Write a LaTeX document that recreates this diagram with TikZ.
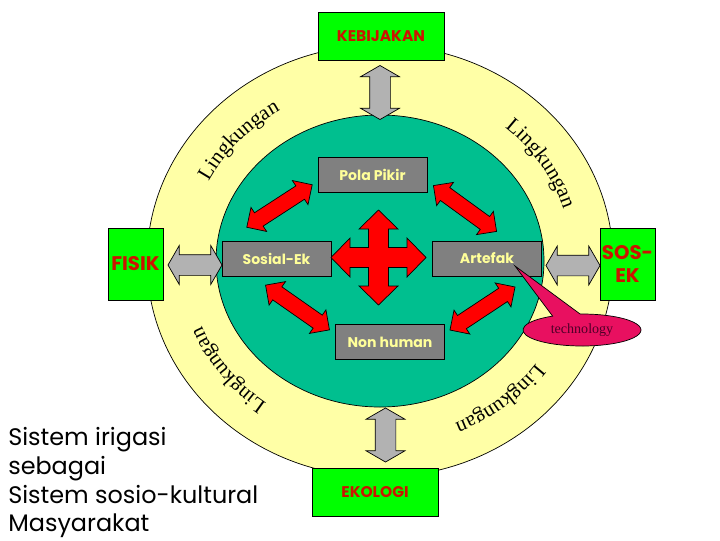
\documentclass[tikz,border=0pt]{standalone}
\usepackage{fontspec}
\usetikzlibrary{shapes.arrows,shapes.geometric,shapes.callouts,decorations.text}
\newfontfamily\comicfont{Poppins}
\newfontfamily\timesfont{Liberation Serif}
\definecolor{ringfill}   {RGB}{255,255,166}
\definecolor{corefill}   {RGB}{  0,191,143}
\definecolor{outerbox}   {RGB}{  0,255,  0}
\definecolor{outertext}  {RGB}{204, 20,  0}
\definecolor{innerbox}   {RGB}{128,128,128}
\definecolor{innertext}  {RGB}{255,255,153}
\definecolor{linkgray}   {RGB}{178,178,178}
\definecolor{linkred}    {RGB}{255,  0,  0}
\definecolor{calloutfill}{RGB}{232, 16, 96}
\definecolor{callouttext}{RGB}{ 80,  0, 40}

\begin{document}
\begin{tikzpicture}[
  x=0.025cm, y=-0.025cm,
  outerblock/.style={
      rectangle, draw=black, line width=0.6pt,
      fill=outerbox, text=outertext, align=center,
      inner sep=1pt,
      font=\comicfont\bfseries\fontsize{11}{13}\selectfont
  },
  sideblock/.style={
      outerblock, minimum width=1.375cm, minimum height=1.8cm,
      font=\comicfont\bfseries\fontsize{14}{16}\selectfont
  },
  innerblock/.style={
      rectangle, draw=black, line width=0.6pt,
      fill=innerbox, text=innertext,
      minimum width=2.725cm, minimum height=0.875cm,
      font=\comicfont\bfseries\fontsize{10}{12}\selectfont
  },
  graylink/.style={
      double arrow, draw=black, line width=0.5pt, fill=linkgray,
      inner xsep=0pt, inner ysep=0.25cm,
      double arrow head extend=0.225cm, double arrow tip angle=120,
      minimum height=1.35cm
  },
  redlink/.style={
      double arrow, draw=black, line width=0.5pt, fill=linkred,
      inner xsep=0pt, inner ysep=0.19cm,
      double arrow head extend=0.16cm, double arrow tip angle=90,
      minimum height=1.95cm
  },
  ringtext/.style={
      decorate, decoration={text along path, text align=center,
        text={|\timesfont\fontsize{15}{15}\selectfont|Lingkungan}}
  }
]
\useasboundingbox (0,0) rectangle (720,540);
\fill[white] (0,0) rectangle (720,540);

% rings
\coordinate (mid) at (380,261);
\draw[fill=ringfill, line width=0.5pt] (mid) ellipse [x radius=233, y radius=216];
\draw[fill=corefill, line width=0.5pt] (mid) ellipse [x radius=164, y radius=146];

% Lingkungan labels round the ring
\path[ringtext] (mid) ++(-165:192 and 176) arc[start angle=-165, end angle=-110, x radius=192, y radius=176];
\path[ringtext] (mid) ++(-60:192 and 176)  arc[start angle=-60,  end angle=-6,   x radius=192, y radius=176];
\path[ringtext] (mid) ++(-245:192 and 176) arc[start angle=-245, end angle=-190, x radius=192, y radius=176];
\path[ringtext] (mid) ++(-336:192 and 176) arc[start angle=-336, end angle=-282, x radius=192, y radius=176];

% outer blocks
\node[outerblock, minimum width=3.15cm, minimum height=1.2cm] (keb) at (381,36)  {KEBIJAKAN};
\node[outerblock, minimum width=3.15cm, minimum height=1.2cm] (eko) at (375,492) {EKOLOGI};
\node[sideblock] (fisik) at (135.5,264) {FISIK};
\node[sideblock] (sosek) at (627.5,264) {SOS-\\EK};

% gray links across the ring
\node[graylink, rotate=90] (linktop) at (380,92.5)   {};
\node[graylink, rotate=90] (linkbot) at (385.5,435)  {};
\node[graylink]            (linklft) at (195,265)    {};
\node[graylink]            (linkrgt) at (573,265.5)  {};

% inner blocks
\node[innerblock] (pola)    at (372.5,174.5) {Pola Pikir};
\node[innerblock] (sosial)  at (276.5,258.5) {Sosial-Ek};
\node[innerblock] (artefak) at (487,258.5)   {Artefak};
\node[innerblock] (nonhum)  at (390,342)     {Non human};

% red links between inner blocks
\node[redlink, rotate=33]   (redul) at (279.5,206)   {};
\node[redlink, rotate=-36]  (redur) at (465,208.5)   {};
\node[redlink, rotate=-35]  (redll) at (297.5,307.5) {};
\node[redlink, rotate=33.5] (redlr) at (482.5,308.5) {};

% four-way arrow in the middle
\coordinate (hub) at (378.5,257.5);
\draw[line width=0.5pt, fill=linkred, shift={(hub)}]
  (10,-10) -- (28.5,-10) -- (28.5,-19.5) -- (47.5,0) -- (28.5,19.5) -- (28.5,10)
  -- (10,10) -- (10,28.5) -- (19.5,28.5) -- (0,47.5) -- (-19.5,28.5) -- (-10,28.5)
  -- (-10,10) -- (-28.5,10) -- (-28.5,19.5) -- (-47.5,0) -- (-28.5,-19.5) -- (-28.5,-10)
  -- (-10,-10) -- (-10,-28.5) -- (-19.5,-28.5) -- (0,-47.5) -- (19.5,-28.5) -- (10,-28.5)
  -- cycle;

% technology callout
\coordinate (techtip) at (515,266);
\node[ellipse callout, draw=black, line width=0.5pt, fill=calloutfill,
      text=callouttext, inner sep=0pt,
      minimum width=2.95cm, minimum height=0.8cm,
      callout absolute pointer={(techtip)}, callout pointer arc=28,
      font=\timesfont\fontsize{10}{12}\selectfont] (tech) at (582,330) {technology};

% caption
\node[anchor=north west, align=left, inner sep=0pt,
      font=\comicfont\fontsize{17}{20.5}\selectfont] (caption) at (8,427)
  {Sistem irigasi\\sebagai\\Sistem sosio-kultural\\Masyarakat};
\end{tikzpicture}
\end{document}
